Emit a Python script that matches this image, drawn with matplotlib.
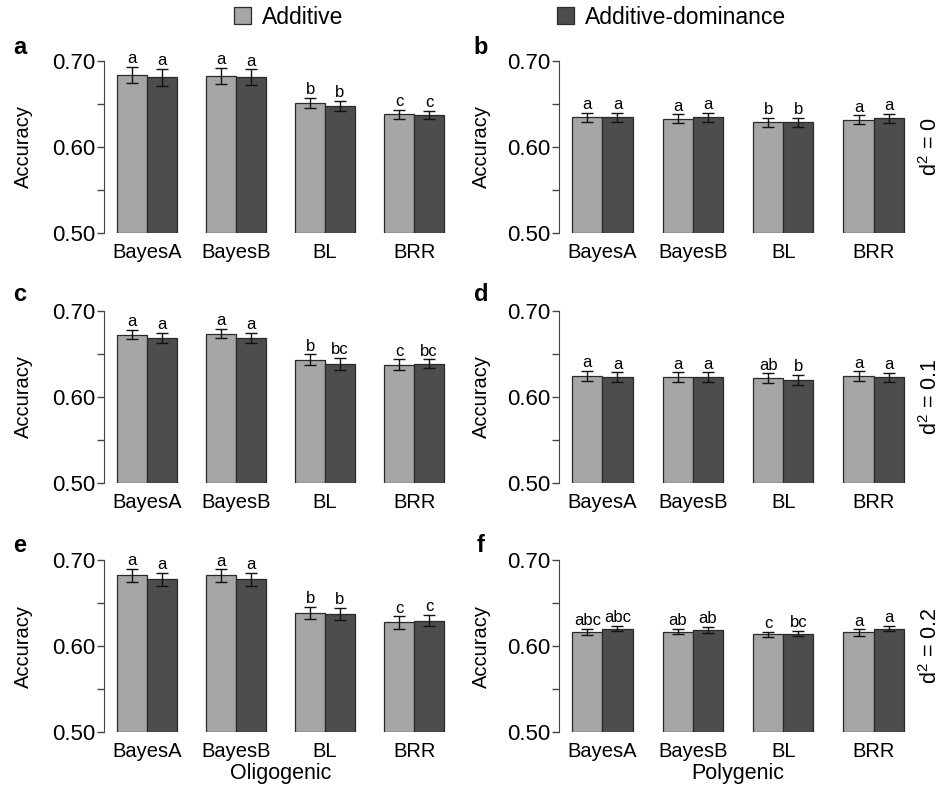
import numpy as np
import matplotlib
matplotlib.use("Agg")
import matplotlib.pyplot as plt
from matplotlib.patches import Patch

plt.rcParams["font.family"] = ["Liberation Sans", "DejaVu Sans"]

methods = ["BayesA", "BayesB", "BL", "BRR"]
series = ["Additive", "Additive-dominance"]
traits = ["Oligogenic", "Polygenic"]
d2_labels = ["0", "0.1", "0.2"]
panel_ids = [["a", "b"], ["c", "d"], ["e", "f"]]

# accuracy means (additive, additive-dominance) per method
acc_add = {
    "a": [0.684, 0.683, 0.651, 0.638],
    "b": [0.6345, 0.633, 0.6287, 0.6318],
    "c": [0.6725, 0.6737, 0.6431, 0.6373],
    "d": [0.6246, 0.623, 0.6219, 0.6242],
    "e": [0.6821, 0.682, 0.6383, 0.6274],
    "f": [0.6168, 0.6168, 0.6137, 0.6157],
}
acc_dom = {
    "a": [0.681, 0.681, 0.6477, 0.637],
    "b": [0.6345, 0.6345, 0.6287, 0.6333],
    "c": [0.669, 0.669, 0.6385, 0.6385],
    "d": [0.623, 0.623, 0.620, 0.623],
    "e": [0.6775, 0.6775, 0.6375, 0.6293],
    "f": [0.6203, 0.6191, 0.6145, 0.6203],
}
# standard errors
err_add = {
    "a": [0.0096, 0.0093, 0.0058, 0.005],
    "b": [0.0052, 0.005, 0.005, 0.005],
    "c": [0.0056, 0.0055, 0.0064, 0.0064],
    "d": [0.0056, 0.0056, 0.0056, 0.0055],
    "e": [0.0076, 0.0072, 0.0072, 0.0072],
    "f": [0.0035, 0.0033, 0.003, 0.0035],
}
err_dom = {
    "a": [0.0097, 0.0093, 0.0058, 0.005],
    "b": [0.0054, 0.005, 0.005, 0.005],
    "c": [0.006, 0.006, 0.0068, 0.0052],
    "d": [0.0056, 0.0056, 0.006, 0.0052],
    "e": [0.0074, 0.0072, 0.0072, 0.0066],
    "f": [0.003, 0.0035, 0.003, 0.003],
}
# significance letters
sig_add = {
    "a": ["a", "a", "b", "c"],
    "b": ["a", "a", "b", "a"],
    "c": ["a", "a", "b", "c"],
    "d": ["a", "a", "ab", "a"],
    "e": ["a", "a", "b", "c"],
    "f": ["abc", "ab", "c", "a"],
}
sig_dom = {
    "a": ["a", "a", "b", "c"],
    "b": ["a", "a", "b", "a"],
    "c": ["a", "a", "bc", "bc"],
    "d": ["a", "a", "b", "a"],
    "e": ["a", "a", "b", "c"],
    "f": ["abc", "ab", "bc", "a"],
}

LIGHT = "#a6a6a6"
DARK = "#4d4d4d"
EDGE = "#2a2a2a"

W, H = 942, 797
fig = plt.figure(figsize=(W / 100, H / 100), dpi=100)

col_left = [104, 559]
col_width = [353, 358]
row_bottom = [233, 483, 732]
ytop = 0.72
px_per_unit = 860
ax_h = (ytop - 0.5) * px_per_unit

x_add = np.array([1.5, 4.5, 7.5, 10.5])
x_dom = x_add + 1

for r in range(3):
    for c in range(2):
        pid = panel_ids[r][c]
        ax = fig.add_axes([col_left[c] / W, (H - row_bottom[r]) / H,
                           col_width[c] / W, ax_h / H])
        for xs, vals, errs, sigs, col in [
            (x_add, acc_add[pid], err_add[pid], sig_add[pid], LIGHT),
            (x_dom, acc_dom[pid], err_dom[pid], sig_dom[pid], DARK),
        ]:
            heights = np.array(vals) - 0.5
            ax.bar(xs, heights, bottom=0.5, width=1.0, color=col,
                   edgecolor=EDGE, linewidth=0.9)
            ax.errorbar(xs, vals, yerr=errs, fmt="none", ecolor="#111111",
                        elinewidth=1.0, capsize=4.6, capthick=1.0)
            for x, v, e, s in zip(xs, vals, errs, sigs):
                ax.annotate(s, (x, v + e), xytext=(0, 0.5),
                            textcoords="offset points", ha="center",
                            va="bottom", fontsize=12, annotation_clip=False)

        ax.set_xlim(0.56, 12.44)
        ax.set_ylim(0.5, ytop)
        for side in ["top", "right", "bottom"]:
            ax.spines[side].set_visible(False)
        ax.spines["left"].set_bounds(0.5, 0.7)
        ax.spines["left"].set_color("#444444")
        ax.set_yticks([0.5, 0.55, 0.6, 0.65, 0.7])
        ax.set_yticklabels(["0.50", "", "0.60", "", "0.70"])
        ax.tick_params(axis="y", length=5, width=1, color="#444444",
                       pad=1, labelsize=16)
        ax.set_xticks((x_add + x_dom) / 2)
        ax.set_xticklabels(methods)
        ax.tick_params(axis="x", length=0, pad=7, labelsize=14.5)
        ax.set_ylabel("Accuracy", fontsize=14.5)
        lx = (33 - col_left[0]) / col_width[0] if c == 0 else (491 - col_left[1]) / col_width[1]
        ax.yaxis.set_label_coords(lx, 0.1 / (ytop - 0.5))

        if c == 1:
            ax.text(1.039, 0.1 / (ytop - 0.5),
                    r"d$^{\mathregular{2}}$ = " + d2_labels[r],
                    transform=ax.transAxes, rotation=90, ha="center",
                    va="center", fontsize=15.5)
        if r == 2:
            ax.text(0.5, -41 / ax_h, traits[c], transform=ax.transAxes,
                    ha="center", va="center", fontsize=15.5)

# panel letters
letter_x = [20, 481]
letter_y = [47, 295, 546]
for r in range(3):
    for c in range(2):
        fig.text(letter_x[c] / W, 1 - letter_y[r] / H, panel_ids[r][c],
                 ha="center", va="center", fontsize=17, fontweight="bold")

handles = [Patch(facecolor=LIGHT, edgecolor=EDGE, linewidth=0.9),
           Patch(facecolor=DARK, edgecolor=EDGE, linewidth=0.9)]
fig.legend(handles, series, ncol=2, loc="center",
           bbox_to_anchor=(510 / W, 1 - 17 / H), frameon=False,
           fontsize=16.5, handlelength=0.75, handleheight=0.75,
           handletextpad=0.45, columnspacing=9.35, borderpad=0)

fig.savefig("out.png", dpi=100)
